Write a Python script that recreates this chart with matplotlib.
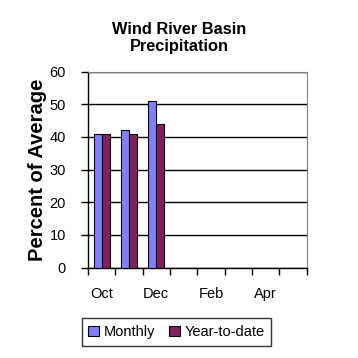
import numpy as np
import matplotlib.pyplot as plt
from matplotlib.patches import Patch

plt.rcParams['font.family'] = ['Liberation Sans', 'DejaVu Sans']

# data
months = ['Oct', 'Nov', 'Dec', 'Jan', 'Feb', 'Mar', 'Apr', 'May']
monthly = [41, 42, 51]
ytd = [41, 41, 44]
yticks = [0, 10, 20, 30, 40, 50, 60]

c_month = '#8080FF'
c_ytd = '#802060'

fig = plt.figure(figsize=(3.58, 3.58), dpi=100)
ax = fig.add_axes([88 / 358, 1 - 267.5 / 358, 218.5 / 358, 196 / 358])

w = 0.29
x = np.arange(len(monthly))
ax.bar(x - w / 2, monthly, w, color=c_month, edgecolor='black', linewidth=0.8, zorder=3)
ax.bar(x + w / 2, ytd, w, color=c_ytd, edgecolor='black', linewidth=0.8, zorder=3)

ax.set_xlim(-0.5, len(months) - 0.5)
ax.set_ylim(0, 60)
ax.set_yticks(yticks)
ax.yaxis.grid(True, color='black', linewidth=1)
ax.set_axisbelow(True)

# ticks between categories, labels on every other month
ax.set_xticks(np.arange(len(months) + 1) - 0.5)
ax.set_xticklabels([])
ax.set_xticks(np.arange(0, len(months), 2), minor=True)
ax.set_xticklabels(months[::2], minor=True)
ax.tick_params(axis='x', which='minor', length=0, pad=14, labelsize=10.5)
ax.tick_params(axis='x', which='major', length=5, width=1, color='black')
ax.tick_params(axis='y', length=5, width=1, pad=11, labelsize=10.5)

for s in ['top', 'right']:
    ax.spines[s].set_color('#808080')
for s in ['left', 'bottom']:
    ax.spines[s].set_color('black')
    ax.spines[s].set_linewidth(1)

ax.set_ylabel('Percent of Average', fontsize=14.5, fontweight='bold', labelpad=2)

fig.text(0.5, 1 - 38 / 358, 'Wind River Basin\nPrecipitation', ha='center', va='center',
         fontsize=11.8, fontweight='bold', linespacing=1.25)

handles = [Patch(facecolor=c_month, edgecolor='black', linewidth=0.8, label='Monthly'),
           Patch(facecolor=c_ytd, edgecolor='black', linewidth=0.8, label='Year-to-date')]
leg = fig.legend(handles=handles, loc='center', bbox_to_anchor=(176.5 / 358, 1 - 332 / 358),
                 ncol=2, frameon=True, fancybox=False, fontsize=10.5, handlelength=0.75,
                 handleheight=0.75, handletextpad=0.3, columnspacing=1.0, borderpad=0.45)
leg.get_frame().set_edgecolor('black')
leg.get_frame().set_linewidth(1)

fig.savefig('out.png', dpi=100)
